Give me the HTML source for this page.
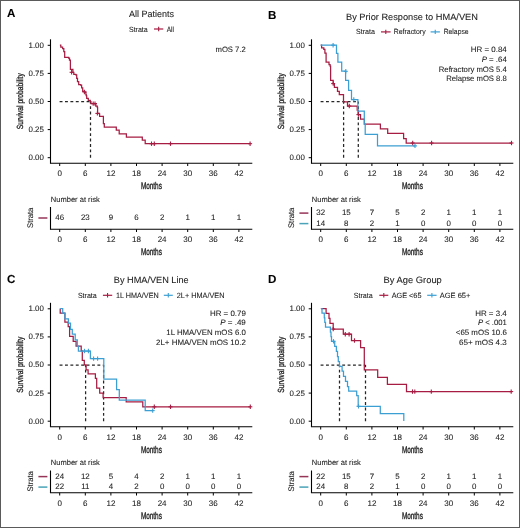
<!DOCTYPE html>
<html><head><meta charset="utf-8"><title>Survival curves</title>
<style>html,body{margin:0;padding:0;background:#fff;width:520px;height:528px;overflow:hidden}svg{display:block;will-change:transform}</style>
</head><body>
<svg width="520" height="528" viewBox="0 0 520 528" font-family='"Liberation Sans", sans-serif' text-rendering="geometricPrecision">
<rect x="0" y="0" width="520" height="528" fill="#fff"/>
<rect x="0.5" y="0.5" width="519" height="527" fill="none" stroke="#5a5a5a" stroke-width="1"/>
<text x="6.90" y="16.50" font-size="11.6" text-anchor="start" font-weight="bold" fill="#000" stroke="#000" stroke-width="0.08" >A</text>
<text x="129.00" y="16.80" font-size="9.2" text-anchor="start" font-weight="normal" fill="#222" stroke="#222" stroke-width="0.08" textLength="45.0" lengthAdjust="spacingAndGlyphs" >All Patients</text>
<text x="129.00" y="31.50" font-size="7.5" text-anchor="start" font-weight="normal" fill="#222" stroke="#222" stroke-width="0.08" textLength="18.7" lengthAdjust="spacingAndGlyphs" >Strata</text>
<line x1="154.00" y1="29.00" x2="163.30" y2="29.00" stroke="#a61c42" stroke-width="1.2" />
<line x1="158.65" y1="26.80" x2="158.65" y2="31.20" stroke="#a61c42" stroke-width="1.1" />
<text x="166.70" y="31.50" font-size="7.5" text-anchor="start" font-weight="normal" fill="#222" stroke="#222" stroke-width="0.08" textLength="7.3" lengthAdjust="spacingAndGlyphs" >All</text>
<line x1="50.50" y1="39.30" x2="50.50" y2="163.30" stroke="#000" stroke-width="1.1" />
<line x1="49.95" y1="163.30" x2="252.30" y2="163.30" stroke="#000" stroke-width="1.1" />
<line x1="47.70" y1="45.30" x2="50.50" y2="45.30" stroke="#000" stroke-width="1.0" />
<text x="43.90" y="47.70" font-size="7.9" text-anchor="end" font-weight="normal" fill="#222" stroke="#222" stroke-width="0.08" >1.00</text>
<line x1="47.70" y1="73.40" x2="50.50" y2="73.40" stroke="#000" stroke-width="1.0" />
<text x="43.90" y="75.80" font-size="7.9" text-anchor="end" font-weight="normal" fill="#222" stroke="#222" stroke-width="0.08" >0.75</text>
<line x1="47.70" y1="101.50" x2="50.50" y2="101.50" stroke="#000" stroke-width="1.0" />
<text x="43.90" y="103.90" font-size="7.9" text-anchor="end" font-weight="normal" fill="#222" stroke="#222" stroke-width="0.08" >0.50</text>
<line x1="47.70" y1="129.60" x2="50.50" y2="129.60" stroke="#000" stroke-width="1.0" />
<text x="43.90" y="132.00" font-size="7.9" text-anchor="end" font-weight="normal" fill="#222" stroke="#222" stroke-width="0.08" >0.25</text>
<line x1="47.70" y1="157.70" x2="50.50" y2="157.70" stroke="#000" stroke-width="1.0" />
<text x="43.90" y="160.10" font-size="7.9" text-anchor="end" font-weight="normal" fill="#222" stroke="#222" stroke-width="0.08" >0.00</text>
<line x1="59.70" y1="163.30" x2="59.70" y2="166.00" stroke="#000" stroke-width="1.0" />
<text x="59.70" y="176.10" font-size="8.0" text-anchor="middle" font-weight="normal" fill="#222" stroke="#222" stroke-width="0.08" >0</text>
<line x1="85.30" y1="163.30" x2="85.30" y2="166.00" stroke="#000" stroke-width="1.0" />
<text x="85.30" y="176.10" font-size="8.0" text-anchor="middle" font-weight="normal" fill="#222" stroke="#222" stroke-width="0.08" >6</text>
<line x1="110.90" y1="163.30" x2="110.90" y2="166.00" stroke="#000" stroke-width="1.0" />
<text x="110.90" y="176.10" font-size="8.0" text-anchor="middle" font-weight="normal" fill="#222" stroke="#222" stroke-width="0.08" >12</text>
<line x1="136.50" y1="163.30" x2="136.50" y2="166.00" stroke="#000" stroke-width="1.0" />
<text x="136.50" y="176.10" font-size="8.0" text-anchor="middle" font-weight="normal" fill="#222" stroke="#222" stroke-width="0.08" >18</text>
<line x1="162.10" y1="163.30" x2="162.10" y2="166.00" stroke="#000" stroke-width="1.0" />
<text x="162.10" y="176.10" font-size="8.0" text-anchor="middle" font-weight="normal" fill="#222" stroke="#222" stroke-width="0.08" >24</text>
<line x1="187.70" y1="163.30" x2="187.70" y2="166.00" stroke="#000" stroke-width="1.0" />
<text x="187.70" y="176.10" font-size="8.0" text-anchor="middle" font-weight="normal" fill="#222" stroke="#222" stroke-width="0.08" >30</text>
<line x1="213.30" y1="163.30" x2="213.30" y2="166.00" stroke="#000" stroke-width="1.0" />
<text x="213.30" y="176.10" font-size="8.0" text-anchor="middle" font-weight="normal" fill="#222" stroke="#222" stroke-width="0.08" >36</text>
<line x1="238.90" y1="163.30" x2="238.90" y2="166.00" stroke="#000" stroke-width="1.0" />
<text x="238.90" y="176.10" font-size="8.0" text-anchor="middle" font-weight="normal" fill="#222" stroke="#222" stroke-width="0.08" >42</text>
<text x="0.00" y="0.00" font-size="8.9" text-anchor="middle" font-weight="normal" fill="#222" stroke="#222" stroke-width="0.3" textLength="56" lengthAdjust="spacingAndGlyphs" transform="translate(23.20,101.20) rotate(-90)">Survival probability</text>
<text x="151.40" y="189.40" font-size="9.7" text-anchor="middle" font-weight="normal" fill="#222" stroke="#222" stroke-width="0.35" textLength="21" lengthAdjust="spacingAndGlyphs" >Months</text>
<text x="245.80" y="52.20" font-size="7.8" text-anchor="end" font-weight="normal" fill="#222" stroke="#222" stroke-width="0.08" textLength="30.3" lengthAdjust="spacingAndGlyphs" >mOS 7.2</text>
<line x1="59.60" y1="101.50" x2="90.50" y2="101.50" stroke="#262626" stroke-width="1.25" stroke-dasharray="2.9,2.5"/>
<line x1="90.50" y1="157.70" x2="90.50" y2="101.50" stroke="#262626" stroke-width="1.25" stroke-dasharray="2.9,2.5"/>
<path d="M59.90,45.20 L60.80,45.20 L60.80,47.00 L62.60,47.00 L62.60,48.50 L63.80,48.50 L63.80,51.50 L64.70,51.50 L64.70,57.40 L68.60,57.40 L68.60,58.00 L69.50,58.00 L69.50,60.00 L70.40,60.00 L70.40,69.30 L72.90,69.30 L72.90,72.30 L73.80,72.30 L73.80,74.30 L75.80,74.30 L75.80,74.80 L76.70,74.80 L76.70,78.40 L77.50,78.40 L77.50,81.60 L78.70,81.60 L78.70,84.50 L80.60,84.50 L80.60,85.00 L81.60,85.00 L81.60,87.90 L82.70,87.90 L82.70,91.40 L84.70,91.40 L84.70,92.00 L85.90,92.00 L85.90,94.90 L86.40,94.90 L86.40,95.80 L86.70,95.80 L86.70,98.40 L88.30,98.40 L88.30,100.40 L90.30,100.40 L90.30,101.50 L90.90,101.50 L90.90,103.60 L95.80,103.60 L95.80,106.20 L97.30,106.20 L97.30,107.30 L97.60,107.30 L97.60,113.40 L99.40,113.40 L99.40,113.80 L99.60,113.80 L99.60,116.40 L103.40,116.40 L103.40,123.70 L104.30,123.70 L104.30,127.00 L116.30,127.00 L116.30,130.20 L119.20,130.20 L119.20,133.80 L126.40,133.80 L126.40,137.10 L142.30,137.10 L142.30,140.20 L145.20,140.20 L145.20,143.70 L250.10,143.70" fill="none" stroke="#a61c42" stroke-width="1.25" stroke-linejoin="miter"/>
<line x1="71.60" y1="70.10" x2="71.60" y2="74.50" stroke="#a61c42" stroke-width="1.1" />
<line x1="69.60" y1="72.30" x2="73.60" y2="72.30" stroke="#a61c42" stroke-width="1.1" />
<line x1="84.40" y1="89.80" x2="84.40" y2="94.20" stroke="#a61c42" stroke-width="1.1" />
<line x1="82.40" y1="92.00" x2="86.40" y2="92.00" stroke="#a61c42" stroke-width="1.1" />
<line x1="93.20" y1="101.40" x2="93.20" y2="105.80" stroke="#a61c42" stroke-width="1.1" />
<line x1="91.20" y1="103.60" x2="95.20" y2="103.60" stroke="#a61c42" stroke-width="1.1" />
<line x1="95.00" y1="101.40" x2="95.00" y2="105.80" stroke="#a61c42" stroke-width="1.1" />
<line x1="93.00" y1="103.60" x2="97.00" y2="103.60" stroke="#a61c42" stroke-width="1.1" />
<line x1="97.40" y1="111.20" x2="97.40" y2="115.60" stroke="#a61c42" stroke-width="1.1" />
<line x1="95.40" y1="113.40" x2="99.40" y2="113.40" stroke="#a61c42" stroke-width="1.1" />
<line x1="151.50" y1="141.50" x2="151.50" y2="145.90" stroke="#a61c42" stroke-width="1.1" />
<line x1="149.50" y1="143.70" x2="153.50" y2="143.70" stroke="#a61c42" stroke-width="1.1" />
<line x1="154.30" y1="141.50" x2="154.30" y2="145.90" stroke="#a61c42" stroke-width="1.1" />
<line x1="152.30" y1="143.70" x2="156.30" y2="143.70" stroke="#a61c42" stroke-width="1.1" />
<line x1="170.50" y1="141.50" x2="170.50" y2="145.90" stroke="#a61c42" stroke-width="1.1" />
<line x1="168.50" y1="143.70" x2="172.50" y2="143.70" stroke="#a61c42" stroke-width="1.1" />
<line x1="250.10" y1="141.50" x2="250.10" y2="145.90" stroke="#a61c42" stroke-width="1.1" />
<line x1="248.10" y1="143.70" x2="252.10" y2="143.70" stroke="#a61c42" stroke-width="1.1" />
<text x="50.80" y="201.60" font-size="7.7" text-anchor="start" font-weight="normal" fill="#222" stroke="#222" stroke-width="0.08" textLength="49" lengthAdjust="spacingAndGlyphs" >Number at risk</text>
<line x1="50.50" y1="207.00" x2="50.50" y2="229.30" stroke="#000" stroke-width="1.1" />
<line x1="49.95" y1="229.30" x2="252.30" y2="229.30" stroke="#000" stroke-width="1.1" />
<line x1="59.70" y1="229.30" x2="59.70" y2="232.00" stroke="#000" stroke-width="1.0" />
<text x="59.70" y="242.20" font-size="8.0" text-anchor="middle" font-weight="normal" fill="#222" stroke="#222" stroke-width="0.08" >0</text>
<line x1="85.30" y1="229.30" x2="85.30" y2="232.00" stroke="#000" stroke-width="1.0" />
<text x="85.30" y="242.20" font-size="8.0" text-anchor="middle" font-weight="normal" fill="#222" stroke="#222" stroke-width="0.08" >6</text>
<line x1="110.90" y1="229.30" x2="110.90" y2="232.00" stroke="#000" stroke-width="1.0" />
<text x="110.90" y="242.20" font-size="8.0" text-anchor="middle" font-weight="normal" fill="#222" stroke="#222" stroke-width="0.08" >12</text>
<line x1="136.50" y1="229.30" x2="136.50" y2="232.00" stroke="#000" stroke-width="1.0" />
<text x="136.50" y="242.20" font-size="8.0" text-anchor="middle" font-weight="normal" fill="#222" stroke="#222" stroke-width="0.08" >18</text>
<line x1="162.10" y1="229.30" x2="162.10" y2="232.00" stroke="#000" stroke-width="1.0" />
<text x="162.10" y="242.20" font-size="8.0" text-anchor="middle" font-weight="normal" fill="#222" stroke="#222" stroke-width="0.08" >24</text>
<line x1="187.70" y1="229.30" x2="187.70" y2="232.00" stroke="#000" stroke-width="1.0" />
<text x="187.70" y="242.20" font-size="8.0" text-anchor="middle" font-weight="normal" fill="#222" stroke="#222" stroke-width="0.08" >30</text>
<line x1="213.30" y1="229.30" x2="213.30" y2="232.00" stroke="#000" stroke-width="1.0" />
<text x="213.30" y="242.20" font-size="8.0" text-anchor="middle" font-weight="normal" fill="#222" stroke="#222" stroke-width="0.08" >36</text>
<line x1="238.90" y1="229.30" x2="238.90" y2="232.00" stroke="#000" stroke-width="1.0" />
<text x="238.90" y="242.20" font-size="8.0" text-anchor="middle" font-weight="normal" fill="#222" stroke="#222" stroke-width="0.08" >42</text>
<text x="151.40" y="255.00" font-size="9.7" text-anchor="middle" font-weight="normal" fill="#222" stroke="#222" stroke-width="0.35" textLength="21" lengthAdjust="spacingAndGlyphs" >Months</text>
<text x="0.00" y="0.00" font-size="8.1" text-anchor="middle" font-weight="normal" fill="#222" stroke="#222" stroke-width="0.08" textLength="20.3" lengthAdjust="spacingAndGlyphs" transform="translate(33.10,217.80) rotate(-90)">Strata</text>
<line x1="38.40" y1="218.00" x2="47.40" y2="218.00" stroke="#963558" stroke-width="1.5" />
<text x="59.70" y="220.10" font-size="7.9" text-anchor="middle" font-weight="normal" fill="#222" stroke="#222" stroke-width="0.08" >46</text>
<text x="85.30" y="220.10" font-size="7.9" text-anchor="middle" font-weight="normal" fill="#222" stroke="#222" stroke-width="0.08" >23</text>
<text x="110.90" y="220.10" font-size="7.9" text-anchor="middle" font-weight="normal" fill="#222" stroke="#222" stroke-width="0.08" >9</text>
<text x="136.50" y="220.10" font-size="7.9" text-anchor="middle" font-weight="normal" fill="#222" stroke="#222" stroke-width="0.08" >6</text>
<text x="162.10" y="220.10" font-size="7.9" text-anchor="middle" font-weight="normal" fill="#222" stroke="#222" stroke-width="0.08" >2</text>
<text x="187.70" y="220.10" font-size="7.9" text-anchor="middle" font-weight="normal" fill="#222" stroke="#222" stroke-width="0.08" >1</text>
<text x="213.30" y="220.10" font-size="7.9" text-anchor="middle" font-weight="normal" fill="#222" stroke="#222" stroke-width="0.08" >1</text>
<text x="238.90" y="220.10" font-size="7.9" text-anchor="middle" font-weight="normal" fill="#222" stroke="#222" stroke-width="0.08" >1</text>
<text x="267.90" y="19.40" font-size="11.6" text-anchor="start" font-weight="bold" fill="#000" stroke="#000" stroke-width="0.08" >B</text>
<text x="346.00" y="19.70" font-size="9.2" text-anchor="start" font-weight="normal" fill="#222" stroke="#222" stroke-width="0.08" textLength="131.9" lengthAdjust="spacingAndGlyphs" >By Prior Response to HMA/VEN</text>
<text x="356.00" y="34.40" font-size="7.5" text-anchor="start" font-weight="normal" fill="#222" stroke="#222" stroke-width="0.08" textLength="18.8" lengthAdjust="spacingAndGlyphs" >Strata</text>
<line x1="381.00" y1="31.90" x2="390.60" y2="31.90" stroke="#a61c42" stroke-width="1.2" />
<line x1="385.80" y1="29.70" x2="385.80" y2="34.10" stroke="#a61c42" stroke-width="1.1" />
<text x="393.80" y="34.40" font-size="7.5" text-anchor="start" font-weight="normal" fill="#222" stroke="#222" stroke-width="0.08" textLength="31.8" lengthAdjust="spacingAndGlyphs" >Refractory</text>
<line x1="430.60" y1="31.90" x2="439.90" y2="31.90" stroke="#3c9fd3" stroke-width="1.2" />
<line x1="435.25" y1="29.70" x2="435.25" y2="34.10" stroke="#3c9fd3" stroke-width="1.1" />
<text x="443.70" y="34.40" font-size="7.5" text-anchor="start" font-weight="normal" fill="#222" stroke="#222" stroke-width="0.08" textLength="24.9" lengthAdjust="spacingAndGlyphs" >Relapse</text>
<line x1="311.50" y1="39.30" x2="311.50" y2="163.30" stroke="#000" stroke-width="1.1" />
<line x1="310.95" y1="163.30" x2="513.30" y2="163.30" stroke="#000" stroke-width="1.1" />
<line x1="308.70" y1="45.30" x2="311.50" y2="45.30" stroke="#000" stroke-width="1.0" />
<text x="304.90" y="47.70" font-size="7.9" text-anchor="end" font-weight="normal" fill="#222" stroke="#222" stroke-width="0.08" >1.00</text>
<line x1="308.70" y1="73.40" x2="311.50" y2="73.40" stroke="#000" stroke-width="1.0" />
<text x="304.90" y="75.80" font-size="7.9" text-anchor="end" font-weight="normal" fill="#222" stroke="#222" stroke-width="0.08" >0.75</text>
<line x1="308.70" y1="101.50" x2="311.50" y2="101.50" stroke="#000" stroke-width="1.0" />
<text x="304.90" y="103.90" font-size="7.9" text-anchor="end" font-weight="normal" fill="#222" stroke="#222" stroke-width="0.08" >0.50</text>
<line x1="308.70" y1="129.60" x2="311.50" y2="129.60" stroke="#000" stroke-width="1.0" />
<text x="304.90" y="132.00" font-size="7.9" text-anchor="end" font-weight="normal" fill="#222" stroke="#222" stroke-width="0.08" >0.25</text>
<line x1="308.70" y1="157.70" x2="311.50" y2="157.70" stroke="#000" stroke-width="1.0" />
<text x="304.90" y="160.10" font-size="7.9" text-anchor="end" font-weight="normal" fill="#222" stroke="#222" stroke-width="0.08" >0.00</text>
<line x1="320.70" y1="163.30" x2="320.70" y2="166.00" stroke="#000" stroke-width="1.0" />
<text x="320.70" y="176.10" font-size="8.0" text-anchor="middle" font-weight="normal" fill="#222" stroke="#222" stroke-width="0.08" >0</text>
<line x1="346.30" y1="163.30" x2="346.30" y2="166.00" stroke="#000" stroke-width="1.0" />
<text x="346.30" y="176.10" font-size="8.0" text-anchor="middle" font-weight="normal" fill="#222" stroke="#222" stroke-width="0.08" >6</text>
<line x1="371.90" y1="163.30" x2="371.90" y2="166.00" stroke="#000" stroke-width="1.0" />
<text x="371.90" y="176.10" font-size="8.0" text-anchor="middle" font-weight="normal" fill="#222" stroke="#222" stroke-width="0.08" >12</text>
<line x1="397.50" y1="163.30" x2="397.50" y2="166.00" stroke="#000" stroke-width="1.0" />
<text x="397.50" y="176.10" font-size="8.0" text-anchor="middle" font-weight="normal" fill="#222" stroke="#222" stroke-width="0.08" >18</text>
<line x1="423.10" y1="163.30" x2="423.10" y2="166.00" stroke="#000" stroke-width="1.0" />
<text x="423.10" y="176.10" font-size="8.0" text-anchor="middle" font-weight="normal" fill="#222" stroke="#222" stroke-width="0.08" >24</text>
<line x1="448.70" y1="163.30" x2="448.70" y2="166.00" stroke="#000" stroke-width="1.0" />
<text x="448.70" y="176.10" font-size="8.0" text-anchor="middle" font-weight="normal" fill="#222" stroke="#222" stroke-width="0.08" >30</text>
<line x1="474.30" y1="163.30" x2="474.30" y2="166.00" stroke="#000" stroke-width="1.0" />
<text x="474.30" y="176.10" font-size="8.0" text-anchor="middle" font-weight="normal" fill="#222" stroke="#222" stroke-width="0.08" >36</text>
<line x1="499.90" y1="163.30" x2="499.90" y2="166.00" stroke="#000" stroke-width="1.0" />
<text x="499.90" y="176.10" font-size="8.0" text-anchor="middle" font-weight="normal" fill="#222" stroke="#222" stroke-width="0.08" >42</text>
<text x="0.00" y="0.00" font-size="8.9" text-anchor="middle" font-weight="normal" fill="#222" stroke="#222" stroke-width="0.3" textLength="56" lengthAdjust="spacingAndGlyphs" transform="translate(284.20,101.20) rotate(-90)">Survival probability</text>
<text x="412.40" y="189.40" font-size="9.7" text-anchor="middle" font-weight="normal" fill="#222" stroke="#222" stroke-width="0.35" textLength="21" lengthAdjust="spacingAndGlyphs" >Months</text>
<text x="506.80" y="52.20" font-size="7.8" text-anchor="end" font-weight="normal" fill="#222" stroke="#222" stroke-width="0.08" textLength="36.0" lengthAdjust="spacingAndGlyphs" >HR = 0.84</text>
<text x="506.80" y="61.90" font-size="7.8" text-anchor="end" font-weight="normal" fill="#222" stroke="#222" stroke-width="0.08" textLength="25.1" lengthAdjust="spacingAndGlyphs" ><tspan font-style="italic">P</tspan> = .64</text>
<text x="506.80" y="71.60" font-size="7.8" text-anchor="end" font-weight="normal" fill="#222" stroke="#222" stroke-width="0.08" textLength="68.0" lengthAdjust="spacingAndGlyphs" >Refractory mOS 5.4</text>
<text x="506.80" y="81.30" font-size="7.8" text-anchor="end" font-weight="normal" fill="#222" stroke="#222" stroke-width="0.08" textLength="60.6" lengthAdjust="spacingAndGlyphs" >Relapse mOS 8.8</text>
<line x1="320.60" y1="101.50" x2="358.30" y2="101.50" stroke="#262626" stroke-width="1.25" stroke-dasharray="2.9,2.5"/>
<line x1="343.60" y1="157.70" x2="343.60" y2="101.50" stroke="#262626" stroke-width="1.25" stroke-dasharray="2.9,2.5"/>
<line x1="358.30" y1="157.70" x2="358.30" y2="101.50" stroke="#262626" stroke-width="1.25" stroke-dasharray="2.9,2.5"/>
<path d="M320.70,45.20 L321.60,45.20 L321.60,47.80 L323.80,47.80 L323.80,49.30 L324.90,49.30 L324.90,53.00 L326.10,53.00 L326.10,62.20 L329.00,62.20 L329.00,64.50 L330.10,64.50 L330.10,66.20 L330.60,66.20 L330.60,80.30 L333.20,80.30 L333.20,83.50 L334.40,83.50 L334.40,87.40 L337.50,87.40 L337.50,91.40 L339.30,91.40 L339.30,94.50 L343.50,94.50 L343.50,101.80 L347.50,101.80 L347.50,106.00 L357.20,106.00 L357.20,110.20 L358.40,110.20 L358.40,114.60 L360.50,114.60 L360.50,119.10 L364.40,119.10 L364.40,124.10 L380.40,124.10 L380.40,128.80 L387.70,128.80 L387.70,133.40 L403.60,133.40 L403.60,138.60 L406.20,138.60 L406.20,143.00 L511.50,143.00" fill="none" stroke="#a61c42" stroke-width="1.25" stroke-linejoin="miter"/>
<path d="M320.70,45.20 L336.50,45.20 L336.50,53.30 L337.90,53.30 L337.90,62.20 L341.70,62.20 L341.70,71.20 L345.60,71.20 L345.60,80.40 L348.60,80.40 L348.60,90.30 L351.50,90.30 L351.50,99.50 L357.90,99.50 L357.90,111.20 L364.30,111.20 L364.30,124.00 L365.20,124.00 L365.20,134.40 L377.50,134.40 L377.50,145.90 L415.00,145.90" fill="none" stroke="#3c9fd3" stroke-width="1.25" stroke-linejoin="miter"/>
<line x1="333.20" y1="81.40" x2="333.20" y2="85.80" stroke="#a61c42" stroke-width="1.1" />
<line x1="331.20" y1="83.60" x2="335.20" y2="83.60" stroke="#a61c42" stroke-width="1.1" />
<line x1="349.30" y1="103.80" x2="349.30" y2="108.20" stroke="#a61c42" stroke-width="1.1" />
<line x1="347.30" y1="106.00" x2="351.30" y2="106.00" stroke="#a61c42" stroke-width="1.1" />
<line x1="358.40" y1="112.40" x2="358.40" y2="116.80" stroke="#a61c42" stroke-width="1.1" />
<line x1="356.40" y1="114.60" x2="360.40" y2="114.60" stroke="#a61c42" stroke-width="1.1" />
<line x1="412.70" y1="140.80" x2="412.70" y2="145.20" stroke="#a61c42" stroke-width="1.1" />
<line x1="410.70" y1="143.00" x2="414.70" y2="143.00" stroke="#a61c42" stroke-width="1.1" />
<line x1="431.60" y1="140.80" x2="431.60" y2="145.20" stroke="#a61c42" stroke-width="1.1" />
<line x1="429.60" y1="143.00" x2="433.60" y2="143.00" stroke="#a61c42" stroke-width="1.1" />
<line x1="511.50" y1="140.80" x2="511.50" y2="145.20" stroke="#a61c42" stroke-width="1.1" />
<line x1="509.50" y1="143.00" x2="513.50" y2="143.00" stroke="#a61c42" stroke-width="1.1" />
<line x1="333.10" y1="43.00" x2="333.10" y2="47.40" stroke="#3c9fd3" stroke-width="1.1" />
<line x1="331.10" y1="45.20" x2="335.10" y2="45.20" stroke="#3c9fd3" stroke-width="1.1" />
<line x1="345.80" y1="69.10" x2="345.80" y2="73.50" stroke="#3c9fd3" stroke-width="1.1" />
<line x1="343.80" y1="71.30" x2="347.80" y2="71.30" stroke="#3c9fd3" stroke-width="1.1" />
<line x1="353.80" y1="97.30" x2="353.80" y2="101.70" stroke="#3c9fd3" stroke-width="1.1" />
<line x1="351.80" y1="99.50" x2="355.80" y2="99.50" stroke="#3c9fd3" stroke-width="1.1" />
<line x1="415.00" y1="143.70" x2="415.00" y2="148.10" stroke="#3c9fd3" stroke-width="1.1" />
<line x1="413.00" y1="145.90" x2="417.00" y2="145.90" stroke="#3c9fd3" stroke-width="1.1" />
<text x="311.80" y="201.60" font-size="7.7" text-anchor="start" font-weight="normal" fill="#222" stroke="#222" stroke-width="0.08" textLength="49" lengthAdjust="spacingAndGlyphs" >Number at risk</text>
<line x1="311.50" y1="207.00" x2="311.50" y2="229.30" stroke="#000" stroke-width="1.1" />
<line x1="310.95" y1="229.30" x2="513.30" y2="229.30" stroke="#000" stroke-width="1.1" />
<line x1="320.70" y1="229.30" x2="320.70" y2="232.00" stroke="#000" stroke-width="1.0" />
<text x="320.70" y="242.20" font-size="8.0" text-anchor="middle" font-weight="normal" fill="#222" stroke="#222" stroke-width="0.08" >0</text>
<line x1="346.30" y1="229.30" x2="346.30" y2="232.00" stroke="#000" stroke-width="1.0" />
<text x="346.30" y="242.20" font-size="8.0" text-anchor="middle" font-weight="normal" fill="#222" stroke="#222" stroke-width="0.08" >6</text>
<line x1="371.90" y1="229.30" x2="371.90" y2="232.00" stroke="#000" stroke-width="1.0" />
<text x="371.90" y="242.20" font-size="8.0" text-anchor="middle" font-weight="normal" fill="#222" stroke="#222" stroke-width="0.08" >12</text>
<line x1="397.50" y1="229.30" x2="397.50" y2="232.00" stroke="#000" stroke-width="1.0" />
<text x="397.50" y="242.20" font-size="8.0" text-anchor="middle" font-weight="normal" fill="#222" stroke="#222" stroke-width="0.08" >18</text>
<line x1="423.10" y1="229.30" x2="423.10" y2="232.00" stroke="#000" stroke-width="1.0" />
<text x="423.10" y="242.20" font-size="8.0" text-anchor="middle" font-weight="normal" fill="#222" stroke="#222" stroke-width="0.08" >24</text>
<line x1="448.70" y1="229.30" x2="448.70" y2="232.00" stroke="#000" stroke-width="1.0" />
<text x="448.70" y="242.20" font-size="8.0" text-anchor="middle" font-weight="normal" fill="#222" stroke="#222" stroke-width="0.08" >30</text>
<line x1="474.30" y1="229.30" x2="474.30" y2="232.00" stroke="#000" stroke-width="1.0" />
<text x="474.30" y="242.20" font-size="8.0" text-anchor="middle" font-weight="normal" fill="#222" stroke="#222" stroke-width="0.08" >36</text>
<line x1="499.90" y1="229.30" x2="499.90" y2="232.00" stroke="#000" stroke-width="1.0" />
<text x="499.90" y="242.20" font-size="8.0" text-anchor="middle" font-weight="normal" fill="#222" stroke="#222" stroke-width="0.08" >42</text>
<text x="412.40" y="255.00" font-size="9.7" text-anchor="middle" font-weight="normal" fill="#222" stroke="#222" stroke-width="0.35" textLength="21" lengthAdjust="spacingAndGlyphs" >Months</text>
<text x="0.00" y="0.00" font-size="8.1" text-anchor="middle" font-weight="normal" fill="#222" stroke="#222" stroke-width="0.08" textLength="20.3" lengthAdjust="spacingAndGlyphs" transform="translate(294.10,217.90) rotate(-90)">Strata</text>
<line x1="299.40" y1="213.10" x2="308.40" y2="213.10" stroke="#963558" stroke-width="1.5" />
<text x="320.70" y="215.20" font-size="7.9" text-anchor="middle" font-weight="normal" fill="#222" stroke="#222" stroke-width="0.08" >32</text>
<text x="346.30" y="215.20" font-size="7.9" text-anchor="middle" font-weight="normal" fill="#222" stroke="#222" stroke-width="0.08" >15</text>
<text x="371.90" y="215.20" font-size="7.9" text-anchor="middle" font-weight="normal" fill="#222" stroke="#222" stroke-width="0.08" >7</text>
<text x="397.50" y="215.20" font-size="7.9" text-anchor="middle" font-weight="normal" fill="#222" stroke="#222" stroke-width="0.08" >5</text>
<text x="423.10" y="215.20" font-size="7.9" text-anchor="middle" font-weight="normal" fill="#222" stroke="#222" stroke-width="0.08" >2</text>
<text x="448.70" y="215.20" font-size="7.9" text-anchor="middle" font-weight="normal" fill="#222" stroke="#222" stroke-width="0.08" >1</text>
<text x="474.30" y="215.20" font-size="7.9" text-anchor="middle" font-weight="normal" fill="#222" stroke="#222" stroke-width="0.08" >1</text>
<text x="499.90" y="215.20" font-size="7.9" text-anchor="middle" font-weight="normal" fill="#222" stroke="#222" stroke-width="0.08" >1</text>
<line x1="299.40" y1="223.60" x2="308.40" y2="223.60" stroke="#4aa3b8" stroke-width="1.5" />
<text x="320.70" y="225.70" font-size="7.9" text-anchor="middle" font-weight="normal" fill="#222" stroke="#222" stroke-width="0.08" >14</text>
<text x="346.30" y="225.70" font-size="7.9" text-anchor="middle" font-weight="normal" fill="#222" stroke="#222" stroke-width="0.08" >8</text>
<text x="371.90" y="225.70" font-size="7.9" text-anchor="middle" font-weight="normal" fill="#222" stroke="#222" stroke-width="0.08" >2</text>
<text x="397.50" y="225.70" font-size="7.9" text-anchor="middle" font-weight="normal" fill="#222" stroke="#222" stroke-width="0.08" >1</text>
<text x="423.10" y="225.70" font-size="7.9" text-anchor="middle" font-weight="normal" fill="#222" stroke="#222" stroke-width="0.08" >0</text>
<text x="448.70" y="225.70" font-size="7.9" text-anchor="middle" font-weight="normal" fill="#222" stroke="#222" stroke-width="0.08" >0</text>
<text x="474.30" y="225.70" font-size="7.9" text-anchor="middle" font-weight="normal" fill="#222" stroke="#222" stroke-width="0.08" >0</text>
<text x="499.90" y="225.70" font-size="7.9" text-anchor="middle" font-weight="normal" fill="#222" stroke="#222" stroke-width="0.08" >0</text>
<text x="6.90" y="282.80" font-size="11.6" text-anchor="start" font-weight="bold" fill="#000" stroke="#000" stroke-width="0.08" >C</text>
<text x="113.80" y="283.10" font-size="9.2" text-anchor="start" font-weight="normal" fill="#222" stroke="#222" stroke-width="0.08" textLength="74.9" lengthAdjust="spacingAndGlyphs" >By HMA/VEN Line</text>
<text x="77.90" y="297.80" font-size="7.5" text-anchor="start" font-weight="normal" fill="#222" stroke="#222" stroke-width="0.08" textLength="18.8" lengthAdjust="spacingAndGlyphs" >Strata</text>
<line x1="102.90" y1="295.30" x2="112.20" y2="295.30" stroke="#a61c42" stroke-width="1.2" />
<line x1="107.55" y1="293.10" x2="107.55" y2="297.50" stroke="#a61c42" stroke-width="1.1" />
<text x="116.00" y="297.80" font-size="7.5" text-anchor="start" font-weight="normal" fill="#222" stroke="#222" stroke-width="0.08" textLength="42.7" lengthAdjust="spacingAndGlyphs" >1L HMA/VEN</text>
<line x1="163.80" y1="295.30" x2="172.80" y2="295.30" stroke="#3c9fd3" stroke-width="1.2" />
<line x1="168.30" y1="293.10" x2="168.30" y2="297.50" stroke="#3c9fd3" stroke-width="1.1" />
<text x="176.80" y="297.80" font-size="7.5" text-anchor="start" font-weight="normal" fill="#222" stroke="#222" stroke-width="0.08" textLength="47.6" lengthAdjust="spacingAndGlyphs" >2L+ HMA/VEN</text>
<line x1="50.50" y1="302.80" x2="50.50" y2="426.80" stroke="#000" stroke-width="1.1" />
<line x1="49.95" y1="426.80" x2="252.30" y2="426.80" stroke="#000" stroke-width="1.1" />
<line x1="47.70" y1="308.80" x2="50.50" y2="308.80" stroke="#000" stroke-width="1.0" />
<text x="43.90" y="311.20" font-size="7.9" text-anchor="end" font-weight="normal" fill="#222" stroke="#222" stroke-width="0.08" >1.00</text>
<line x1="47.70" y1="336.90" x2="50.50" y2="336.90" stroke="#000" stroke-width="1.0" />
<text x="43.90" y="339.30" font-size="7.9" text-anchor="end" font-weight="normal" fill="#222" stroke="#222" stroke-width="0.08" >0.75</text>
<line x1="47.70" y1="365.00" x2="50.50" y2="365.00" stroke="#000" stroke-width="1.0" />
<text x="43.90" y="367.40" font-size="7.9" text-anchor="end" font-weight="normal" fill="#222" stroke="#222" stroke-width="0.08" >0.50</text>
<line x1="47.70" y1="393.10" x2="50.50" y2="393.10" stroke="#000" stroke-width="1.0" />
<text x="43.90" y="395.50" font-size="7.9" text-anchor="end" font-weight="normal" fill="#222" stroke="#222" stroke-width="0.08" >0.25</text>
<line x1="47.70" y1="421.20" x2="50.50" y2="421.20" stroke="#000" stroke-width="1.0" />
<text x="43.90" y="423.60" font-size="7.9" text-anchor="end" font-weight="normal" fill="#222" stroke="#222" stroke-width="0.08" >0.00</text>
<line x1="59.70" y1="426.80" x2="59.70" y2="429.50" stroke="#000" stroke-width="1.0" />
<text x="59.70" y="439.60" font-size="8.0" text-anchor="middle" font-weight="normal" fill="#222" stroke="#222" stroke-width="0.08" >0</text>
<line x1="85.30" y1="426.80" x2="85.30" y2="429.50" stroke="#000" stroke-width="1.0" />
<text x="85.30" y="439.60" font-size="8.0" text-anchor="middle" font-weight="normal" fill="#222" stroke="#222" stroke-width="0.08" >6</text>
<line x1="110.90" y1="426.80" x2="110.90" y2="429.50" stroke="#000" stroke-width="1.0" />
<text x="110.90" y="439.60" font-size="8.0" text-anchor="middle" font-weight="normal" fill="#222" stroke="#222" stroke-width="0.08" >12</text>
<line x1="136.50" y1="426.80" x2="136.50" y2="429.50" stroke="#000" stroke-width="1.0" />
<text x="136.50" y="439.60" font-size="8.0" text-anchor="middle" font-weight="normal" fill="#222" stroke="#222" stroke-width="0.08" >18</text>
<line x1="162.10" y1="426.80" x2="162.10" y2="429.50" stroke="#000" stroke-width="1.0" />
<text x="162.10" y="439.60" font-size="8.0" text-anchor="middle" font-weight="normal" fill="#222" stroke="#222" stroke-width="0.08" >24</text>
<line x1="187.70" y1="426.80" x2="187.70" y2="429.50" stroke="#000" stroke-width="1.0" />
<text x="187.70" y="439.60" font-size="8.0" text-anchor="middle" font-weight="normal" fill="#222" stroke="#222" stroke-width="0.08" >30</text>
<line x1="213.30" y1="426.80" x2="213.30" y2="429.50" stroke="#000" stroke-width="1.0" />
<text x="213.30" y="439.60" font-size="8.0" text-anchor="middle" font-weight="normal" fill="#222" stroke="#222" stroke-width="0.08" >36</text>
<line x1="238.90" y1="426.80" x2="238.90" y2="429.50" stroke="#000" stroke-width="1.0" />
<text x="238.90" y="439.60" font-size="8.0" text-anchor="middle" font-weight="normal" fill="#222" stroke="#222" stroke-width="0.08" >42</text>
<text x="0.00" y="0.00" font-size="8.9" text-anchor="middle" font-weight="normal" fill="#222" stroke="#222" stroke-width="0.3" textLength="56" lengthAdjust="spacingAndGlyphs" transform="translate(23.20,364.70) rotate(-90)">Survival probability</text>
<text x="151.40" y="452.90" font-size="9.7" text-anchor="middle" font-weight="normal" fill="#222" stroke="#222" stroke-width="0.35" textLength="21" lengthAdjust="spacingAndGlyphs" >Months</text>
<text x="245.80" y="315.70" font-size="7.8" text-anchor="end" font-weight="normal" fill="#222" stroke="#222" stroke-width="0.08" textLength="35.8" lengthAdjust="spacingAndGlyphs" >HR = 0.79</text>
<text x="245.80" y="325.40" font-size="7.8" text-anchor="end" font-weight="normal" fill="#222" stroke="#222" stroke-width="0.08" textLength="25.6" lengthAdjust="spacingAndGlyphs" ><tspan font-style="italic">P</tspan> = .49</text>
<text x="245.80" y="335.10" font-size="7.8" text-anchor="end" font-weight="normal" fill="#222" stroke="#222" stroke-width="0.08" textLength="79.5" lengthAdjust="spacingAndGlyphs" >1L HMA/VEN mOS 6.0</text>
<text x="245.80" y="344.80" font-size="7.8" text-anchor="end" font-weight="normal" fill="#222" stroke="#222" stroke-width="0.08" textLength="89.8" lengthAdjust="spacingAndGlyphs" >2L+ HMA/VEN mOS 10.2</text>
<line x1="59.60" y1="365.00" x2="103.60" y2="365.00" stroke="#262626" stroke-width="1.25" stroke-dasharray="2.9,2.5"/>
<line x1="85.60" y1="421.20" x2="85.60" y2="365.00" stroke="#262626" stroke-width="1.25" stroke-dasharray="2.9,2.5"/>
<line x1="103.60" y1="421.20" x2="103.60" y2="365.00" stroke="#262626" stroke-width="1.25" stroke-dasharray="2.9,2.5"/>
<path d="M60.20,308.50 L60.20,313.10 L64.90,313.10 L64.90,322.00 L68.20,322.00 L68.20,326.50 L69.60,326.50 L69.60,336.40 L73.20,336.40 L73.20,341.30 L76.10,341.30 L76.10,346.20 L81.20,346.20 L81.20,350.80 L82.30,350.80 L82.30,360.30 L84.30,360.30 L84.30,364.90 L86.10,364.90 L86.10,369.80 L88.10,369.80 L88.10,373.90 L95.40,373.90 L95.40,378.40 L96.70,378.40 L96.70,388.20 L99.70,388.20 L99.70,393.20 L103.10,393.20 L103.10,397.70 L126.20,397.70 L126.20,401.90 L142.80,401.90 L142.80,406.80 L250.30,406.80" fill="none" stroke="#a61c42" stroke-width="1.25" stroke-linejoin="miter"/>
<path d="M60.20,308.50 L62.70,308.50 L62.70,313.10 L64.90,313.10 L64.90,318.80 L68.40,318.80 L68.40,323.00 L70.50,323.00 L70.50,329.30 L72.30,329.30 L72.30,334.10 L75.20,334.10 L75.20,339.80 L77.30,339.80 L77.30,346.20 L78.40,346.20 L78.40,351.00 L90.40,351.00 L90.40,358.60 L103.80,358.60 L103.80,379.10 L116.60,379.10 L116.60,389.50 L119.30,389.50 L119.30,400.20 L145.20,400.20 L145.20,410.60 L152.70,410.60" fill="none" stroke="#3c9fd3" stroke-width="1.25" stroke-linejoin="miter"/>
<line x1="154.30" y1="404.60" x2="154.30" y2="409.00" stroke="#a61c42" stroke-width="1.1" />
<line x1="152.30" y1="406.80" x2="156.30" y2="406.80" stroke="#a61c42" stroke-width="1.1" />
<line x1="170.50" y1="404.60" x2="170.50" y2="409.00" stroke="#a61c42" stroke-width="1.1" />
<line x1="168.50" y1="406.80" x2="172.50" y2="406.80" stroke="#a61c42" stroke-width="1.1" />
<line x1="250.30" y1="404.60" x2="250.30" y2="409.00" stroke="#a61c42" stroke-width="1.1" />
<line x1="248.30" y1="406.80" x2="252.30" y2="406.80" stroke="#a61c42" stroke-width="1.1" />
<line x1="84.50" y1="348.80" x2="84.50" y2="353.20" stroke="#3c9fd3" stroke-width="1.1" />
<line x1="82.50" y1="351.00" x2="86.50" y2="351.00" stroke="#3c9fd3" stroke-width="1.1" />
<line x1="88.40" y1="348.80" x2="88.40" y2="353.20" stroke="#3c9fd3" stroke-width="1.1" />
<line x1="86.40" y1="351.00" x2="90.40" y2="351.00" stroke="#3c9fd3" stroke-width="1.1" />
<line x1="93.60" y1="356.40" x2="93.60" y2="360.80" stroke="#3c9fd3" stroke-width="1.1" />
<line x1="91.60" y1="358.60" x2="95.60" y2="358.60" stroke="#3c9fd3" stroke-width="1.1" />
<line x1="97.60" y1="356.40" x2="97.60" y2="360.80" stroke="#3c9fd3" stroke-width="1.1" />
<line x1="95.60" y1="358.60" x2="99.60" y2="358.60" stroke="#3c9fd3" stroke-width="1.1" />
<line x1="152.70" y1="408.40" x2="152.70" y2="412.80" stroke="#3c9fd3" stroke-width="1.1" />
<line x1="150.70" y1="410.60" x2="154.70" y2="410.60" stroke="#3c9fd3" stroke-width="1.1" />
<text x="50.80" y="465.10" font-size="7.7" text-anchor="start" font-weight="normal" fill="#222" stroke="#222" stroke-width="0.08" textLength="49" lengthAdjust="spacingAndGlyphs" >Number at risk</text>
<line x1="50.50" y1="470.50" x2="50.50" y2="492.80" stroke="#000" stroke-width="1.1" />
<line x1="49.95" y1="492.80" x2="252.30" y2="492.80" stroke="#000" stroke-width="1.1" />
<line x1="59.70" y1="492.80" x2="59.70" y2="495.50" stroke="#000" stroke-width="1.0" />
<text x="59.70" y="505.70" font-size="8.0" text-anchor="middle" font-weight="normal" fill="#222" stroke="#222" stroke-width="0.08" >0</text>
<line x1="85.30" y1="492.80" x2="85.30" y2="495.50" stroke="#000" stroke-width="1.0" />
<text x="85.30" y="505.70" font-size="8.0" text-anchor="middle" font-weight="normal" fill="#222" stroke="#222" stroke-width="0.08" >6</text>
<line x1="110.90" y1="492.80" x2="110.90" y2="495.50" stroke="#000" stroke-width="1.0" />
<text x="110.90" y="505.70" font-size="8.0" text-anchor="middle" font-weight="normal" fill="#222" stroke="#222" stroke-width="0.08" >12</text>
<line x1="136.50" y1="492.80" x2="136.50" y2="495.50" stroke="#000" stroke-width="1.0" />
<text x="136.50" y="505.70" font-size="8.0" text-anchor="middle" font-weight="normal" fill="#222" stroke="#222" stroke-width="0.08" >18</text>
<line x1="162.10" y1="492.80" x2="162.10" y2="495.50" stroke="#000" stroke-width="1.0" />
<text x="162.10" y="505.70" font-size="8.0" text-anchor="middle" font-weight="normal" fill="#222" stroke="#222" stroke-width="0.08" >24</text>
<line x1="187.70" y1="492.80" x2="187.70" y2="495.50" stroke="#000" stroke-width="1.0" />
<text x="187.70" y="505.70" font-size="8.0" text-anchor="middle" font-weight="normal" fill="#222" stroke="#222" stroke-width="0.08" >30</text>
<line x1="213.30" y1="492.80" x2="213.30" y2="495.50" stroke="#000" stroke-width="1.0" />
<text x="213.30" y="505.70" font-size="8.0" text-anchor="middle" font-weight="normal" fill="#222" stroke="#222" stroke-width="0.08" >36</text>
<line x1="238.90" y1="492.80" x2="238.90" y2="495.50" stroke="#000" stroke-width="1.0" />
<text x="238.90" y="505.70" font-size="8.0" text-anchor="middle" font-weight="normal" fill="#222" stroke="#222" stroke-width="0.08" >42</text>
<text x="151.40" y="518.50" font-size="9.7" text-anchor="middle" font-weight="normal" fill="#222" stroke="#222" stroke-width="0.35" textLength="21" lengthAdjust="spacingAndGlyphs" >Months</text>
<text x="0.00" y="0.00" font-size="8.1" text-anchor="middle" font-weight="normal" fill="#222" stroke="#222" stroke-width="0.08" textLength="20.3" lengthAdjust="spacingAndGlyphs" transform="translate(33.10,481.40) rotate(-90)">Strata</text>
<line x1="38.40" y1="476.60" x2="47.40" y2="476.60" stroke="#963558" stroke-width="1.5" />
<text x="59.70" y="478.70" font-size="7.9" text-anchor="middle" font-weight="normal" fill="#222" stroke="#222" stroke-width="0.08" >24</text>
<text x="85.30" y="478.70" font-size="7.9" text-anchor="middle" font-weight="normal" fill="#222" stroke="#222" stroke-width="0.08" >12</text>
<text x="110.90" y="478.70" font-size="7.9" text-anchor="middle" font-weight="normal" fill="#222" stroke="#222" stroke-width="0.08" >5</text>
<text x="136.50" y="478.70" font-size="7.9" text-anchor="middle" font-weight="normal" fill="#222" stroke="#222" stroke-width="0.08" >4</text>
<text x="162.10" y="478.70" font-size="7.9" text-anchor="middle" font-weight="normal" fill="#222" stroke="#222" stroke-width="0.08" >2</text>
<text x="187.70" y="478.70" font-size="7.9" text-anchor="middle" font-weight="normal" fill="#222" stroke="#222" stroke-width="0.08" >1</text>
<text x="213.30" y="478.70" font-size="7.9" text-anchor="middle" font-weight="normal" fill="#222" stroke="#222" stroke-width="0.08" >1</text>
<text x="238.90" y="478.70" font-size="7.9" text-anchor="middle" font-weight="normal" fill="#222" stroke="#222" stroke-width="0.08" >1</text>
<line x1="38.40" y1="487.10" x2="47.40" y2="487.10" stroke="#4aa3b8" stroke-width="1.5" />
<text x="59.70" y="489.20" font-size="7.9" text-anchor="middle" font-weight="normal" fill="#222" stroke="#222" stroke-width="0.08" >22</text>
<text x="85.30" y="489.20" font-size="7.9" text-anchor="middle" font-weight="normal" fill="#222" stroke="#222" stroke-width="0.08" >11</text>
<text x="110.90" y="489.20" font-size="7.9" text-anchor="middle" font-weight="normal" fill="#222" stroke="#222" stroke-width="0.08" >4</text>
<text x="136.50" y="489.20" font-size="7.9" text-anchor="middle" font-weight="normal" fill="#222" stroke="#222" stroke-width="0.08" >2</text>
<text x="162.10" y="489.20" font-size="7.9" text-anchor="middle" font-weight="normal" fill="#222" stroke="#222" stroke-width="0.08" >0</text>
<text x="187.70" y="489.20" font-size="7.9" text-anchor="middle" font-weight="normal" fill="#222" stroke="#222" stroke-width="0.08" >0</text>
<text x="213.30" y="489.20" font-size="7.9" text-anchor="middle" font-weight="normal" fill="#222" stroke="#222" stroke-width="0.08" >0</text>
<text x="238.90" y="489.20" font-size="7.9" text-anchor="middle" font-weight="normal" fill="#222" stroke="#222" stroke-width="0.08" >0</text>
<text x="267.90" y="282.80" font-size="11.6" text-anchor="start" font-weight="bold" fill="#000" stroke="#000" stroke-width="0.08" >D</text>
<text x="383.50" y="283.10" font-size="9.2" text-anchor="start" font-weight="normal" fill="#222" stroke="#222" stroke-width="0.08" textLength="58.3" lengthAdjust="spacingAndGlyphs" >By Age Group</text>
<text x="353.80" y="297.80" font-size="7.5" text-anchor="start" font-weight="normal" fill="#222" stroke="#222" stroke-width="0.08" textLength="18.9" lengthAdjust="spacingAndGlyphs" >Strata</text>
<line x1="379.30" y1="295.30" x2="388.30" y2="295.30" stroke="#a61c42" stroke-width="1.2" />
<line x1="383.80" y1="293.10" x2="383.80" y2="297.50" stroke="#a61c42" stroke-width="1.1" />
<text x="391.70" y="297.80" font-size="7.5" text-anchor="start" font-weight="normal" fill="#222" stroke="#222" stroke-width="0.08" textLength="29.8" lengthAdjust="spacingAndGlyphs" >AGE &lt;65</text>
<line x1="427.20" y1="295.30" x2="436.60" y2="295.30" stroke="#3c9fd3" stroke-width="1.2" />
<line x1="431.90" y1="293.10" x2="431.90" y2="297.50" stroke="#3c9fd3" stroke-width="1.1" />
<text x="439.80" y="297.80" font-size="7.5" text-anchor="start" font-weight="normal" fill="#222" stroke="#222" stroke-width="0.08" textLength="30.6" lengthAdjust="spacingAndGlyphs" >AGE 65+</text>
<line x1="311.50" y1="302.80" x2="311.50" y2="426.80" stroke="#000" stroke-width="1.1" />
<line x1="310.95" y1="426.80" x2="513.30" y2="426.80" stroke="#000" stroke-width="1.1" />
<line x1="308.70" y1="308.80" x2="311.50" y2="308.80" stroke="#000" stroke-width="1.0" />
<text x="304.90" y="311.20" font-size="7.9" text-anchor="end" font-weight="normal" fill="#222" stroke="#222" stroke-width="0.08" >1.00</text>
<line x1="308.70" y1="336.90" x2="311.50" y2="336.90" stroke="#000" stroke-width="1.0" />
<text x="304.90" y="339.30" font-size="7.9" text-anchor="end" font-weight="normal" fill="#222" stroke="#222" stroke-width="0.08" >0.75</text>
<line x1="308.70" y1="365.00" x2="311.50" y2="365.00" stroke="#000" stroke-width="1.0" />
<text x="304.90" y="367.40" font-size="7.9" text-anchor="end" font-weight="normal" fill="#222" stroke="#222" stroke-width="0.08" >0.50</text>
<line x1="308.70" y1="393.10" x2="311.50" y2="393.10" stroke="#000" stroke-width="1.0" />
<text x="304.90" y="395.50" font-size="7.9" text-anchor="end" font-weight="normal" fill="#222" stroke="#222" stroke-width="0.08" >0.25</text>
<line x1="308.70" y1="421.20" x2="311.50" y2="421.20" stroke="#000" stroke-width="1.0" />
<text x="304.90" y="423.60" font-size="7.9" text-anchor="end" font-weight="normal" fill="#222" stroke="#222" stroke-width="0.08" >0.00</text>
<line x1="320.70" y1="426.80" x2="320.70" y2="429.50" stroke="#000" stroke-width="1.0" />
<text x="320.70" y="439.60" font-size="8.0" text-anchor="middle" font-weight="normal" fill="#222" stroke="#222" stroke-width="0.08" >0</text>
<line x1="346.30" y1="426.80" x2="346.30" y2="429.50" stroke="#000" stroke-width="1.0" />
<text x="346.30" y="439.60" font-size="8.0" text-anchor="middle" font-weight="normal" fill="#222" stroke="#222" stroke-width="0.08" >6</text>
<line x1="371.90" y1="426.80" x2="371.90" y2="429.50" stroke="#000" stroke-width="1.0" />
<text x="371.90" y="439.60" font-size="8.0" text-anchor="middle" font-weight="normal" fill="#222" stroke="#222" stroke-width="0.08" >12</text>
<line x1="397.50" y1="426.80" x2="397.50" y2="429.50" stroke="#000" stroke-width="1.0" />
<text x="397.50" y="439.60" font-size="8.0" text-anchor="middle" font-weight="normal" fill="#222" stroke="#222" stroke-width="0.08" >18</text>
<line x1="423.10" y1="426.80" x2="423.10" y2="429.50" stroke="#000" stroke-width="1.0" />
<text x="423.10" y="439.60" font-size="8.0" text-anchor="middle" font-weight="normal" fill="#222" stroke="#222" stroke-width="0.08" >24</text>
<line x1="448.70" y1="426.80" x2="448.70" y2="429.50" stroke="#000" stroke-width="1.0" />
<text x="448.70" y="439.60" font-size="8.0" text-anchor="middle" font-weight="normal" fill="#222" stroke="#222" stroke-width="0.08" >30</text>
<line x1="474.30" y1="426.80" x2="474.30" y2="429.50" stroke="#000" stroke-width="1.0" />
<text x="474.30" y="439.60" font-size="8.0" text-anchor="middle" font-weight="normal" fill="#222" stroke="#222" stroke-width="0.08" >36</text>
<line x1="499.90" y1="426.80" x2="499.90" y2="429.50" stroke="#000" stroke-width="1.0" />
<text x="499.90" y="439.60" font-size="8.0" text-anchor="middle" font-weight="normal" fill="#222" stroke="#222" stroke-width="0.08" >42</text>
<text x="0.00" y="0.00" font-size="8.9" text-anchor="middle" font-weight="normal" fill="#222" stroke="#222" stroke-width="0.3" textLength="56" lengthAdjust="spacingAndGlyphs" transform="translate(284.20,364.70) rotate(-90)">Survival probability</text>
<text x="412.40" y="452.90" font-size="9.7" text-anchor="middle" font-weight="normal" fill="#222" stroke="#222" stroke-width="0.35" textLength="21" lengthAdjust="spacingAndGlyphs" >Months</text>
<text x="506.80" y="315.70" font-size="7.8" text-anchor="end" font-weight="normal" fill="#222" stroke="#222" stroke-width="0.08" textLength="31.6" lengthAdjust="spacingAndGlyphs" >HR = 3.4</text>
<text x="506.80" y="325.40" font-size="7.8" text-anchor="end" font-weight="normal" fill="#222" stroke="#222" stroke-width="0.08" textLength="28.9" lengthAdjust="spacingAndGlyphs" ><tspan font-style="italic">P</tspan> &lt; .001</text>
<text x="506.80" y="335.10" font-size="7.8" text-anchor="end" font-weight="normal" fill="#222" stroke="#222" stroke-width="0.08" textLength="51.0" lengthAdjust="spacingAndGlyphs" >&lt;65 mOS 10.6</text>
<text x="506.80" y="344.80" font-size="7.8" text-anchor="end" font-weight="normal" fill="#222" stroke="#222" stroke-width="0.08" textLength="47.8" lengthAdjust="spacingAndGlyphs" >65+ mOS 4.3</text>
<line x1="320.60" y1="365.00" x2="365.50" y2="365.00" stroke="#262626" stroke-width="1.25" stroke-dasharray="2.9,2.5"/>
<line x1="339.50" y1="421.20" x2="339.50" y2="365.00" stroke="#262626" stroke-width="1.25" stroke-dasharray="2.9,2.5"/>
<line x1="365.50" y1="421.20" x2="365.50" y2="365.00" stroke="#262626" stroke-width="1.25" stroke-dasharray="2.9,2.5"/>
<path d="M320.90,308.50 L326.10,308.50 L326.10,313.40 L329.00,313.40 L329.00,318.30 L330.00,318.30 L330.00,323.40 L333.20,323.40 L333.20,329.10 L343.30,329.10 L343.30,334.20 L351.50,334.20 L351.50,340.50 L360.60,340.50 L360.60,347.50 L364.30,347.50 L364.30,369.90 L377.70,369.90 L377.70,377.30 L387.40,377.30 L387.40,384.40 L406.50,384.40 L406.50,391.60 L511.20,391.60" fill="none" stroke="#a61c42" stroke-width="1.25" stroke-linejoin="miter"/>
<path d="M320.90,308.50 L322.00,308.50 L322.00,313.10 L324.30,313.10 L324.30,317.80 L324.80,317.80 L324.80,322.40 L325.50,322.40 L325.50,327.20 L330.40,327.20 L330.40,332.00 L331.00,332.00 L331.00,336.60 L331.50,336.60 L331.50,341.30 L334.70,341.30 L334.70,346.40 L336.40,346.40 L336.40,351.30 L337.50,351.30 L337.50,356.50 L338.30,356.50 L338.30,361.50 L339.50,361.50 L339.50,366.40 L342.10,366.40 L342.10,371.20 L343.50,371.20 L343.50,376.40 L345.50,376.40 L345.50,381.30 L347.50,381.30 L347.50,386.50 L348.70,386.50 L348.70,391.10 L356.70,391.10 L356.70,395.50 L358.20,395.50 L358.20,406.30 L380.30,406.30 L380.30,413.50 L403.80,413.50 L403.80,421.00" fill="none" stroke="#3c9fd3" stroke-width="1.25" stroke-linejoin="miter"/>
<line x1="333.20" y1="326.90" x2="333.20" y2="331.30" stroke="#a61c42" stroke-width="1.1" />
<line x1="331.20" y1="329.10" x2="335.20" y2="329.10" stroke="#a61c42" stroke-width="1.1" />
<line x1="345.30" y1="332.00" x2="345.30" y2="336.40" stroke="#a61c42" stroke-width="1.1" />
<line x1="343.30" y1="334.20" x2="347.30" y2="334.20" stroke="#a61c42" stroke-width="1.1" />
<line x1="349.10" y1="332.00" x2="349.10" y2="336.40" stroke="#a61c42" stroke-width="1.1" />
<line x1="347.10" y1="334.20" x2="351.10" y2="334.20" stroke="#a61c42" stroke-width="1.1" />
<line x1="354.50" y1="338.30" x2="354.50" y2="342.70" stroke="#a61c42" stroke-width="1.1" />
<line x1="352.50" y1="340.50" x2="356.50" y2="340.50" stroke="#a61c42" stroke-width="1.1" />
<line x1="412.50" y1="389.40" x2="412.50" y2="393.80" stroke="#a61c42" stroke-width="1.1" />
<line x1="410.50" y1="391.60" x2="414.50" y2="391.60" stroke="#a61c42" stroke-width="1.1" />
<line x1="414.80" y1="389.40" x2="414.80" y2="393.80" stroke="#a61c42" stroke-width="1.1" />
<line x1="412.80" y1="391.60" x2="416.80" y2="391.60" stroke="#a61c42" stroke-width="1.1" />
<line x1="431.30" y1="389.40" x2="431.30" y2="393.80" stroke="#a61c42" stroke-width="1.1" />
<line x1="429.30" y1="391.60" x2="433.30" y2="391.60" stroke="#a61c42" stroke-width="1.1" />
<line x1="511.20" y1="389.40" x2="511.20" y2="393.80" stroke="#a61c42" stroke-width="1.1" />
<line x1="509.20" y1="391.60" x2="513.20" y2="391.60" stroke="#a61c42" stroke-width="1.1" />
<line x1="333.50" y1="339.10" x2="333.50" y2="343.50" stroke="#3c9fd3" stroke-width="1.1" />
<line x1="331.50" y1="341.30" x2="335.50" y2="341.30" stroke="#3c9fd3" stroke-width="1.1" />
<line x1="358.50" y1="404.10" x2="358.50" y2="408.50" stroke="#3c9fd3" stroke-width="1.1" />
<line x1="356.50" y1="406.30" x2="360.50" y2="406.30" stroke="#3c9fd3" stroke-width="1.1" />
<text x="311.80" y="465.10" font-size="7.7" text-anchor="start" font-weight="normal" fill="#222" stroke="#222" stroke-width="0.08" textLength="49" lengthAdjust="spacingAndGlyphs" >Number at risk</text>
<line x1="311.50" y1="470.50" x2="311.50" y2="492.80" stroke="#000" stroke-width="1.1" />
<line x1="310.95" y1="492.80" x2="513.30" y2="492.80" stroke="#000" stroke-width="1.1" />
<line x1="320.70" y1="492.80" x2="320.70" y2="495.50" stroke="#000" stroke-width="1.0" />
<text x="320.70" y="505.70" font-size="8.0" text-anchor="middle" font-weight="normal" fill="#222" stroke="#222" stroke-width="0.08" >0</text>
<line x1="346.30" y1="492.80" x2="346.30" y2="495.50" stroke="#000" stroke-width="1.0" />
<text x="346.30" y="505.70" font-size="8.0" text-anchor="middle" font-weight="normal" fill="#222" stroke="#222" stroke-width="0.08" >6</text>
<line x1="371.90" y1="492.80" x2="371.90" y2="495.50" stroke="#000" stroke-width="1.0" />
<text x="371.90" y="505.70" font-size="8.0" text-anchor="middle" font-weight="normal" fill="#222" stroke="#222" stroke-width="0.08" >12</text>
<line x1="397.50" y1="492.80" x2="397.50" y2="495.50" stroke="#000" stroke-width="1.0" />
<text x="397.50" y="505.70" font-size="8.0" text-anchor="middle" font-weight="normal" fill="#222" stroke="#222" stroke-width="0.08" >18</text>
<line x1="423.10" y1="492.80" x2="423.10" y2="495.50" stroke="#000" stroke-width="1.0" />
<text x="423.10" y="505.70" font-size="8.0" text-anchor="middle" font-weight="normal" fill="#222" stroke="#222" stroke-width="0.08" >24</text>
<line x1="448.70" y1="492.80" x2="448.70" y2="495.50" stroke="#000" stroke-width="1.0" />
<text x="448.70" y="505.70" font-size="8.0" text-anchor="middle" font-weight="normal" fill="#222" stroke="#222" stroke-width="0.08" >30</text>
<line x1="474.30" y1="492.80" x2="474.30" y2="495.50" stroke="#000" stroke-width="1.0" />
<text x="474.30" y="505.70" font-size="8.0" text-anchor="middle" font-weight="normal" fill="#222" stroke="#222" stroke-width="0.08" >36</text>
<line x1="499.90" y1="492.80" x2="499.90" y2="495.50" stroke="#000" stroke-width="1.0" />
<text x="499.90" y="505.70" font-size="8.0" text-anchor="middle" font-weight="normal" fill="#222" stroke="#222" stroke-width="0.08" >42</text>
<text x="412.40" y="518.50" font-size="9.7" text-anchor="middle" font-weight="normal" fill="#222" stroke="#222" stroke-width="0.35" textLength="21" lengthAdjust="spacingAndGlyphs" >Months</text>
<text x="0.00" y="0.00" font-size="8.1" text-anchor="middle" font-weight="normal" fill="#222" stroke="#222" stroke-width="0.08" textLength="20.3" lengthAdjust="spacingAndGlyphs" transform="translate(294.10,481.40) rotate(-90)">Strata</text>
<line x1="299.40" y1="476.60" x2="308.40" y2="476.60" stroke="#963558" stroke-width="1.5" />
<text x="320.70" y="478.70" font-size="7.9" text-anchor="middle" font-weight="normal" fill="#222" stroke="#222" stroke-width="0.08" >22</text>
<text x="346.30" y="478.70" font-size="7.9" text-anchor="middle" font-weight="normal" fill="#222" stroke="#222" stroke-width="0.08" >15</text>
<text x="371.90" y="478.70" font-size="7.9" text-anchor="middle" font-weight="normal" fill="#222" stroke="#222" stroke-width="0.08" >7</text>
<text x="397.50" y="478.70" font-size="7.9" text-anchor="middle" font-weight="normal" fill="#222" stroke="#222" stroke-width="0.08" >5</text>
<text x="423.10" y="478.70" font-size="7.9" text-anchor="middle" font-weight="normal" fill="#222" stroke="#222" stroke-width="0.08" >2</text>
<text x="448.70" y="478.70" font-size="7.9" text-anchor="middle" font-weight="normal" fill="#222" stroke="#222" stroke-width="0.08" >1</text>
<text x="474.30" y="478.70" font-size="7.9" text-anchor="middle" font-weight="normal" fill="#222" stroke="#222" stroke-width="0.08" >1</text>
<text x="499.90" y="478.70" font-size="7.9" text-anchor="middle" font-weight="normal" fill="#222" stroke="#222" stroke-width="0.08" >1</text>
<line x1="299.40" y1="487.10" x2="308.40" y2="487.10" stroke="#4aa3b8" stroke-width="1.5" />
<text x="320.70" y="489.20" font-size="7.9" text-anchor="middle" font-weight="normal" fill="#222" stroke="#222" stroke-width="0.08" >24</text>
<text x="346.30" y="489.20" font-size="7.9" text-anchor="middle" font-weight="normal" fill="#222" stroke="#222" stroke-width="0.08" >8</text>
<text x="371.90" y="489.20" font-size="7.9" text-anchor="middle" font-weight="normal" fill="#222" stroke="#222" stroke-width="0.08" >2</text>
<text x="397.50" y="489.20" font-size="7.9" text-anchor="middle" font-weight="normal" fill="#222" stroke="#222" stroke-width="0.08" >1</text>
<text x="423.10" y="489.20" font-size="7.9" text-anchor="middle" font-weight="normal" fill="#222" stroke="#222" stroke-width="0.08" >0</text>
<text x="448.70" y="489.20" font-size="7.9" text-anchor="middle" font-weight="normal" fill="#222" stroke="#222" stroke-width="0.08" >0</text>
<text x="474.30" y="489.20" font-size="7.9" text-anchor="middle" font-weight="normal" fill="#222" stroke="#222" stroke-width="0.08" >0</text>
<text x="499.90" y="489.20" font-size="7.9" text-anchor="middle" font-weight="normal" fill="#222" stroke="#222" stroke-width="0.08" >0</text>
</svg>
</body></html>
